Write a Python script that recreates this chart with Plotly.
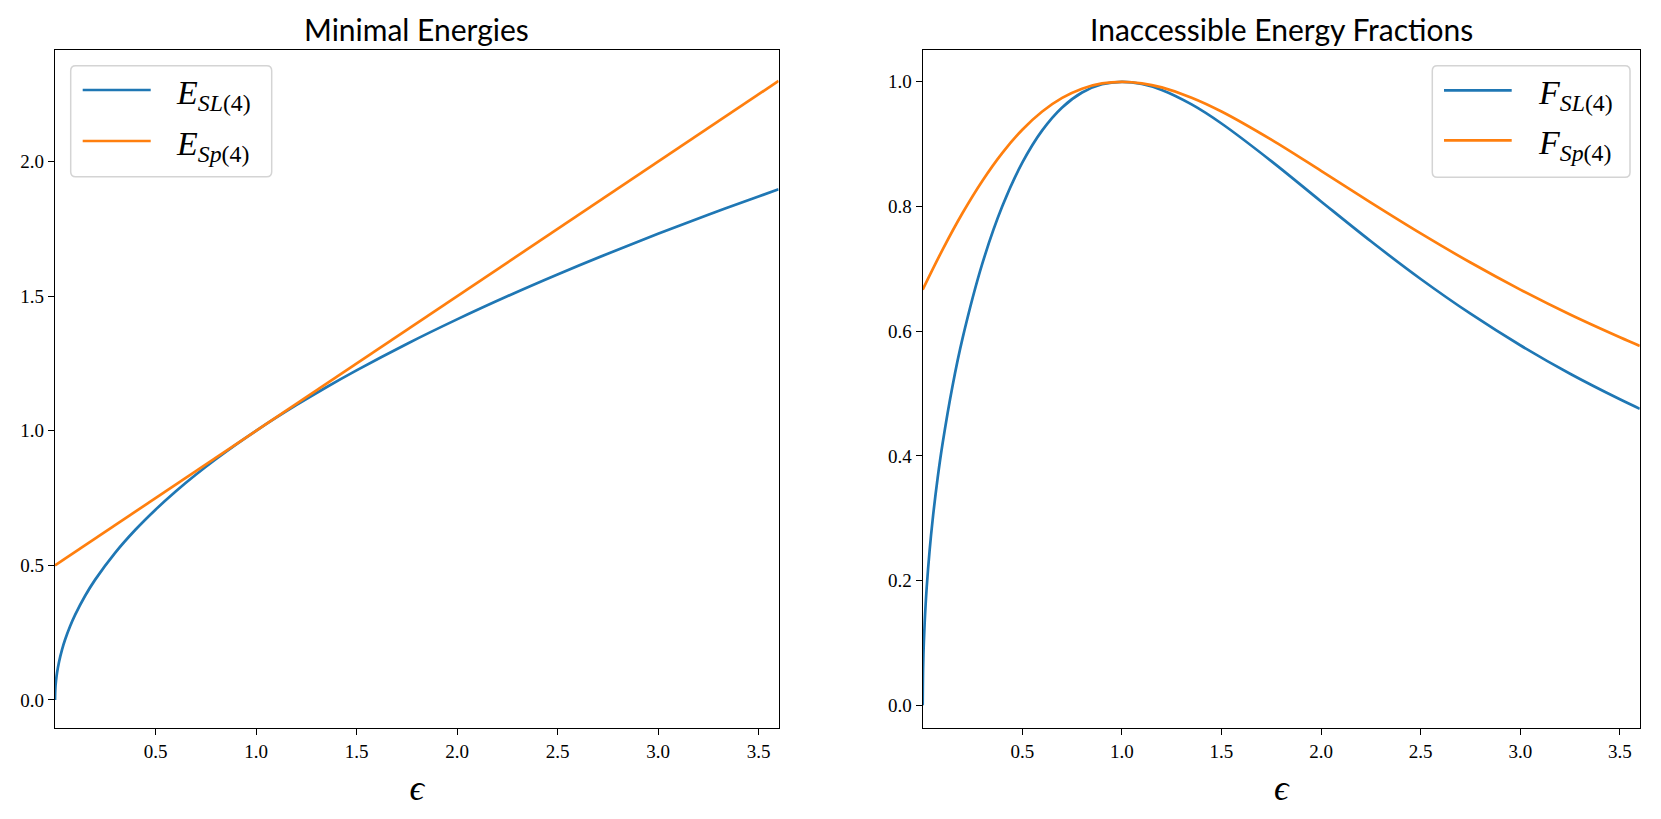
import plotly.graph_objects as go

# ---- data ----
eps_sl = [0, 0.002, 0.005, 0.01, 0.02, 0.035, 0.05, 0.075, 0.1, 0.15, 0.2, 0.3, 0.4, 0.5,
          0.6, 0.7, 0.8, 0.9, 1.0, 1.1, 1.2, 1.35, 1.5, 1.75, 2.0, 2.25, 2.5, 2.75, 3.0,
          3.25, 3.5, 3.6]
E_SL = [0.0, 0.0447, 0.0707, 0.1, 0.1414, 0.1871, 0.2236, 0.2739, 0.3162, 0.3873, 0.4472,
        0.5477, 0.6325, 0.7071, 0.7746, 0.8367, 0.8944, 0.9487, 1.0, 1.0488, 1.0954, 1.1619,
        1.2247, 1.3229, 1.4142, 1.5, 1.5811, 1.6583, 1.7321, 1.8028, 1.8708, 1.8974]
F_SL = [0.0, 0.0596, 0.0943, 0.1333, 0.1885, 0.2493, 0.2979, 0.3645, 0.4202, 0.5126, 0.5884,
        0.7090, 0.8006, 0.8703, 0.9221, 0.9589, 0.9829, 0.9960, 1.0, 0.9965, 0.9869, 0.9637,
        0.9331, 0.8728, 0.8081, 0.7442, 0.6837, 0.6280, 0.5774, 0.5317, 0.4907, 0.4755]

eps_sp = [0, 0.1, 0.2, 0.3, 0.4, 0.5, 0.6, 0.7, 0.8, 0.9, 1.0, 1.1, 1.2, 1.35, 1.5, 1.75,
          2.0, 2.25, 2.5, 2.75, 3.0, 3.25, 3.5, 3.6]
E_SP = [0.5, 0.55, 0.6, 0.65, 0.7, 0.75, 0.8, 0.85, 0.9, 0.95, 1.0, 1.05, 1.1, 1.175, 1.25,
        1.375, 1.5, 1.625, 1.75, 1.875, 2.0, 2.125, 2.25, 2.3]
F_SP = [0.6667, 0.7309, 0.7895, 0.8414, 0.8861, 0.9231, 0.9524, 0.9742, 0.9890, 0.9974, 1.0,
        0.9976, 0.9910, 0.9746, 0.9524, 0.9072, 0.8571, 0.8062, 0.7568, 0.7101, 0.6667,
        0.6267, 0.5902, 0.5764]

x_ticks = [0.5, 1.0, 1.5, 2.0, 2.5, 3.0, 3.5]
x_tick_text = ["0.5", "1.0", "1.5", "2.0", "2.5", "3.0", "3.5"]
yl_ticks = [0.0, 0.5, 1.0, 1.5, 2.0]
yl_tick_text = ["0.0", "0.5", "1.0", "1.5", "2.0"]
yr_ticks = [0.0, 0.2, 0.4, 0.6, 0.8, 1.0]
yr_tick_text = ["0.0", "0.2", "0.4", "0.6", "0.8", "1.0"]

titles = ["Minimal Energies", "Inaccessible Energy Fractions"]
legend_left = ["<i>E</i><sub><i>SL</i>(4)</sub>", "<i>E</i><sub><i>Sp</i>(4)</sub>"]
legend_right = ["<i>F</i><sub><i>SL</i>(4)</sub>", "<i>F</i><sub><i>Sp</i>(4)</sub>"]

BLUE = "#1f77b4"
ORANGE = "#ff7f0e"
SERIF = "Liberation Serif"
SANS = "Lato"

# The page body has an 8px margin; size the figure to fit the window.
OFF = 8
W, H = 1661 - 2 * OFF, 819 - 2 * OFF


def px_x(wx):
    return (wx - OFF) / W


def px_y(wy):
    return 1 - (wy - OFF) / H


fig = go.Figure()
line_w = 2.7
fig.add_trace(go.Scatter(x=eps_sl, y=E_SL, mode="lines", line=dict(color=BLUE, width=line_w, shape="spline", smoothing=1),
                         name=legend_left[0], xaxis="x", yaxis="y", showlegend=False))
fig.add_trace(go.Scatter(x=eps_sp, y=E_SP, mode="lines", line=dict(color=ORANGE, width=line_w),
                         name=legend_left[1], xaxis="x", yaxis="y", showlegend=False))
fig.add_trace(go.Scatter(x=eps_sl, y=F_SL, mode="lines", line=dict(color=BLUE, width=line_w, shape="spline", smoothing=1),
                         name=legend_right[0], xaxis="x2", yaxis="y2", showlegend=False))
fig.add_trace(go.Scatter(x=eps_sp, y=F_SP, mode="lines", line=dict(color=ORANGE, width=line_w, shape="spline", smoothing=1),
                         name=legend_right[1], xaxis="x2", yaxis="y2", showlegend=False))

ydom = [px_y(727.7), px_y(50)]
xdom_l = [px_x(55), px_x(778.6)]
xdom_r = [px_x(922.7), px_x(1639.8)]

axis_common = dict(showline=True, mirror=True, linecolor="black", linewidth=1.4,
                   ticks="outside", ticklen=6, tickwidth=1.4, tickcolor="black",
                   showgrid=False, zeroline=False,
                   tickfont=dict(family=SERIF, size=19, color="black"))
xtitle = dict(text="<i>ϵ</i>", font=dict(family=SERIF, size=36, color="black"), standoff=14)

shapes = []
annotations = []


def rounded_box(x0, y0, x1, y1, r=5):
    # window px -> paper, rounded corners
    rx, ry = r / W, r / H
    X0, X1 = px_x(x0), px_x(x1)
    Yt, Yb = px_y(y0), px_y(y1)
    path = (f"M{X0 + rx},{Yt} L{X1 - rx},{Yt} Q{X1},{Yt} {X1},{Yt - ry} "
            f"L{X1},{Yb + ry} Q{X1},{Yb} {X1 - rx},{Yb} "
            f"L{X0 + rx},{Yb} Q{X0},{Yb} {X0},{Yb + ry} "
            f"L{X0},{Yt - ry} Q{X0},{Yt} {X0 + rx},{Yt} Z")
    return dict(type="path", path=path, xref="paper", yref="paper",
                fillcolor="rgba(255,255,255,0.8)", line=dict(color="#d4d4d4", width=1.5), layer="above")


def add_legend(box, line_x, text_x, rows, labels):
    shapes.append(rounded_box(*box))
    for (yy, col), lab in zip(zip(rows, [BLUE, ORANGE]), labels):
        shapes.append(dict(type="line", xref="paper", yref="paper",
                           x0=px_x(line_x[0]), x1=px_x(line_x[1]), y0=px_y(yy), y1=px_y(yy),
                           line=dict(color=col, width=line_w), layer="above"))
        annotations.append(dict(text=lab, x=px_x(text_x), y=px_y(yy + 5), xref="paper", yref="paper",
                                xanchor="left", yanchor="middle", showarrow=False,
                                font=dict(family=SERIF, size=34, color="black")))


add_legend((70.7, 65.7, 271.7, 176.7), (82.7, 150.7), 174, (90, 141), legend_left)
add_legend((1432.3, 65.7, 1630, 177.3), (1444, 1511.7), 1536, (90.3, 140.3), legend_right)

for t, dom in zip(titles, [xdom_l, xdom_r]):
    annotations.append(dict(text=t, x=(dom[0] + dom[1]) / 2, y=px_y(29), xref="paper", yref="paper",
                            xanchor="center", yanchor="middle", showarrow=False,
                            font=dict(family=SANS, size=30, color="black")))

fig.update_layout(
    width=W, height=H,
    margin=dict(l=0, r=0, t=0, b=0),
    paper_bgcolor="white", plot_bgcolor="white",
    showlegend=False,
    xaxis=dict(domain=xdom_l, range=[0, 3.6], tickvals=x_ticks, ticktext=x_tick_text,
               anchor="y", title=xtitle, **axis_common),
    yaxis=dict(domain=ydom, range=[-0.103, 2.415], tickvals=yl_ticks, ticktext=yl_tick_text,
               anchor="x", **axis_common),
    xaxis2=dict(domain=xdom_r, range=[0, 3.6], tickvals=x_ticks, ticktext=x_tick_text,
                anchor="y2", title=xtitle, **axis_common),
    yaxis2=dict(domain=ydom, range=[-0.036, 1.051], tickvals=yr_ticks, ticktext=yr_tick_text,
                anchor="x2", **axis_common),
    shapes=shapes,
    annotations=annotations,
)

fig.write_html("out.html")
